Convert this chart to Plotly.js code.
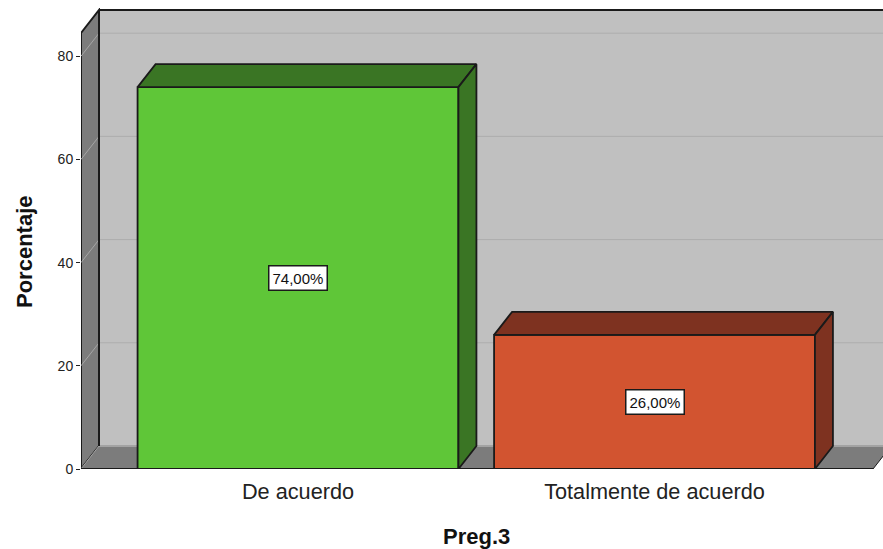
<!DOCTYPE html>
<html><head><meta charset="utf-8">
<script src="https://cdn.plot.ly/plotly-3.0.1.min.js"></script>
<style>html,body{margin:0;padding:0;background:#fff}#c{width:883px;height:549px}</style>
</head><body><div id="c"></div>
<script>
const categories = ["De acuerdo", "Totalmente de acuerdo"];
const porcentajes = [74, 26];
const etiquetas = ["74,00%", "26,00%"];
const tickValores = [0, 20, 40, 60, 80];
const frontColors = ["#5fc638", "#d25430"];
const darkColors = ["#3a7524", "#7e3220"];

// Oblique-depth constants (in axis units)
const PX_X = 356.5, PX_Y = 5.16;
const DX = 18 / PX_X, DY = 23 / PX_Y;
const BAR_W = 0.9;
const XMIN = -217 / PX_X, XMAX = 585 / PX_X, YTOP = (469 - 8) / PX_Y;
const FLOOR_R = 575 / PX_X;   // front right end of floor
const WALL_TOP = (469 - 33) / PX_Y;  // front top of wall

const pth = pts => "M" + pts.map(p => p[0] + "," + p[1]).join("L") + "Z";
const poly = (pts, fill, line, w) => ({type:"path", xref:"x", yref:"y", layer:"below", path:pth(pts),
  fillcolor:fill, line:{color:line, width:w===undefined?1:w}});
const seg = (a, b, col, w) => ({type:"line", xref:"x", yref:"y", layer:"below", x0:a[0], y0:a[1], x1:b[0], y1:b[1],
  line:{color:col, width:w}});

const shapes = [
  poly([[XMIN+DX,DY],[XMAX+1,DY],[XMAX+1,WALL_TOP+DY],[XMIN+DX,WALL_TOP+DY]], "#c0c0c0", "rgba(0,0,0,0)", 0),
  poly([[XMIN,0],[XMIN+DX,DY],[XMIN+DX,WALL_TOP+DY],[XMIN,WALL_TOP]], "#7c7c7c", "#1a1a1a", 2),
  poly([[XMIN,0],[FLOOR_R,0],[FLOOR_R+DX,DY],[XMIN+DX,DY]], "#7c7c7c", "rgba(0,0,0,0)", 0)
];
[20,40,60,80].forEach(t => {
  shapes.push(seg([XMIN,t],[XMIN+DX,t+DY], "#a6a6a6", 1));
  shapes.push(seg([XMIN+DX,t+DY],[XMAX,t+DY], "#adadad", 1));
});
shapes.push(seg([XMIN,0],[XMIN+DX,DY], "#a6a6a6", 1));
shapes.push(seg([XMIN+DX,DY],[XMAX,DY], "#a3a3a3", 2));
shapes.push(seg([XMIN+DX,DY],[XMIN+DX,WALL_TOP+DY], "#1a1a1a", 2));
shapes.push(seg([XMIN+DX,WALL_TOP+DY],[XMAX,WALL_TOP+DY], "#1a1a1a", 2));
shapes.push(seg([XMIN,0],[FLOOR_R,0], "#1a1a1a", 2));
shapes.push(seg([FLOOR_R,0],[FLOOR_R+DX,DY], "#1a1a1a", 1));

const idx = categories.map((_, i) => i);
const traces = [{
  type:"bar", x:idx, y:porcentajes, width:BAR_W,
  marker:{color:frontColors, line:{color:"#1a1a1a", width:1.8}}, hoverinfo:"skip"
}];
idx.forEach(i => {
  const l = i - BAR_W/2, r = i + BAR_W/2, v = porcentajes[i];
  traces.push({type:"scatter", mode:"lines", fill:"toself", fillcolor:darkColors[i], hoverinfo:"skip",
    line:{color:"#1a1a1a", width:1.8},
    x:[l, l+DX, r+DX, r, l], y:[v, v+DY, v+DY, v, v]});
  traces.push({type:"scatter", mode:"lines", fill:"toself", fillcolor:darkColors[i], hoverinfo:"skip",
    line:{color:"#1a1a1a", width:1.8},
    x:[r, r+DX, r+DX, r, r], y:[0, DY, v+DY, v, 0]});
});

const annotations = idx.map(i => ({
  x:i, y:porcentajes[i]/2, xref:"x", yref:"y", text:etiquetas[i], showarrow:false,
  bgcolor:"#ffffff", bordercolor:"#1a1a1a", borderwidth:1.5, borderpad:3,
  font:{family:"Liberation Sans", size:15, color:"#111"}
}));
const titleFont = {family:"Liberation Sans", size:22, color:"#111", weight:"bold"};
annotations.push({xref:"paper", yref:"paper", x:(476-81)/802, y:(469-536)/461, xanchor:"center", yanchor:"middle", text:"Preg.3", showarrow:false, font:titleFont});
annotations.push({xref:"paper", yref:"paper", x:(25-81)/802, y:(469-252)/461, xanchor:"center", yanchor:"middle", text:"Porcentaje", textangle:-90, showarrow:false, font:titleFont});

Plotly.newPlot("c", traces, {
  width:883, height:549, showlegend:false,
  paper_bgcolor:"#fff", plot_bgcolor:"#fff",
  margin:{l:81, r:0, t:8, b:80},
  xaxis:{range:[XMIN,XMAX], tickvals:idx, ticktext:categories, showgrid:false, zeroline:false, showline:false,
    ticks:"", ticklabelstandoff:7, tickfont:{family:"Liberation Sans", size:21.7, color:"#222"}, fixedrange:true},
  yaxis:{range:[0,YTOP], tickvals:tickValores, showgrid:false, zeroline:false, showline:false,
    ticks:"outside", ticklen:4, tickcolor:"#222", tickwidth:1,
    tickfont:{family:"Liberation Sans", size:14, color:"#222"}, fixedrange:true},
  shapes, annotations, bargap:0
}, {displayModeBar:false, staticPlot:true});
</script></body></html>
